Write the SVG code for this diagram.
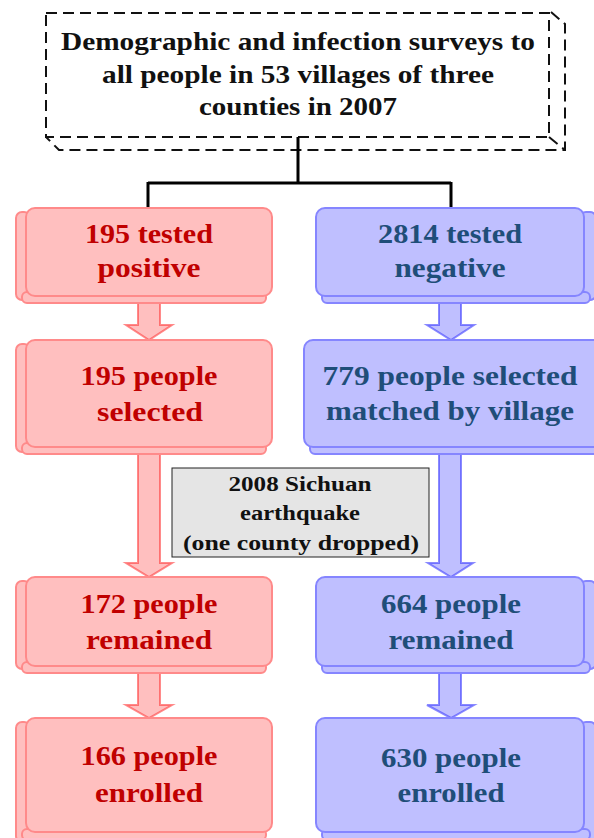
<svg xmlns="http://www.w3.org/2000/svg" width="594" height="838" viewBox="0 0 594 838">
<style>
.rm{fill:#ffbfbf;stroke:#ff8a8a;stroke-width:2}
.bm{fill:#bfbfff;stroke:#8585ff;stroke-width:2}
.ra{fill:rgba(255,0,0,0.25);stroke:rgba(255,60,60,0.6);stroke-width:2}
.ba{fill:rgba(0,0,255,0.25);stroke:rgba(60,60,255,0.6);stroke-width:2}
.dash{fill:none;stroke:#111;stroke-width:2;stroke-dasharray:11,6}
.ln{fill:none;stroke:#000;stroke-width:3}
</style>
<rect width="594" height="838" fill="#fff"/>
<g id="survey">
<path class="dash" d="M551,12 L565,24 L565,150 L59,150 L46,137"/>
<path class="dash" d="M549,137 L565,150"/>
<rect class="dash" x="46" y="13" width="503" height="124"/>
<g font-family="'Liberation Serif', serif" font-weight="bold" font-size="25" fill="#111" text-anchor="middle">
<text x="298" y="50" textLength="474" lengthAdjust="spacingAndGlyphs">Demographic and infection surveys to</text>
<text x="298" y="83" textLength="392" lengthAdjust="spacingAndGlyphs">all people in 53 villages of three</text>
<text x="298" y="115" textLength="198" lengthAdjust="spacingAndGlyphs">counties in 2007</text>
</g>
</g>
<g id="connectors">
<path class="ln" d="M298,137 V183 M148,183 H451 M148,182 V208 M451,182 V208"/>
<path class="ra" d="M138,296 V325 H126 L149,340 L172,325 H160 V296 Z"/>
<path class="ba" d="M439,296 V325 H427 L451,340 L474,325 H461 V296 Z"/>
<path class="ra" d="M138,447 V563 H126 L149,577 L172,563 H160 V447 Z"/>
<path class="ba" d="M439,447 V563 H428 L451,577 L473,563 H461 V447 Z"/>
<path class="ra" d="M138,666 V705 H126 L149,718 L172,705 H160 V666 Z"/>
<path class="ba" d="M439,666 V705 H427 L451,718 L474,705 H461 V666 Z"/>
</g>
<g id="pos">
<rect class="rm" x="16" y="212" width="14" height="88" rx="6"/>
<rect class="rm" x="22" y="292" width="244" height="11" rx="5"/>
<rect class="rm" x="26" y="208" width="246" height="88" rx="9"/>
<g font-family="'Liberation Serif', serif" font-weight="bold" font-size="28" fill="#c00000" text-anchor="middle">
<text x="149" y="243" textLength="128" lengthAdjust="spacingAndGlyphs">195 tested</text>
<text x="149" y="277" textLength="103" lengthAdjust="spacingAndGlyphs">positive</text>
</g>
</g>
<g id="neg">
<rect class="bm" x="580" y="212" width="16" height="88" rx="6"/>
<rect class="bm" x="322" y="292" width="268" height="11" rx="5"/>
<rect class="bm" x="316" y="208" width="268" height="88" rx="9"/>
<g font-family="'Liberation Serif', serif" font-weight="bold" font-size="28" fill="#1f4e79" text-anchor="middle">
<text x="450" y="243" textLength="144" lengthAdjust="spacingAndGlyphs">2814 tested</text>
<text x="450" y="277" textLength="111" lengthAdjust="spacingAndGlyphs">negative</text>
</g>
</g>
<g id="pos-sel">
<rect class="rm" x="16" y="344" width="14" height="108" rx="6"/>
<rect class="rm" x="22" y="443" width="244" height="11" rx="5"/>
<rect class="rm" x="26" y="340" width="246" height="107" rx="9"/>
<g font-family="'Liberation Serif', serif" font-weight="bold" font-size="28" fill="#c00000" text-anchor="middle">
<text x="149" y="385" textLength="137" lengthAdjust="spacingAndGlyphs">195 people</text>
<text x="150" y="421" textLength="106" lengthAdjust="spacingAndGlyphs">selected</text>
</g>
</g>
<g id="neg-sel">
<rect class="bm" x="310" y="443" width="290" height="11" rx="5"/>
<rect class="bm" x="304" y="340" width="300" height="107" rx="9"/>
<g font-family="'Liberation Serif', serif" font-weight="bold" font-size="28" fill="#1f4e79" text-anchor="middle">
<text x="450" y="385" textLength="255" lengthAdjust="spacingAndGlyphs">779 people selected</text>
<text x="450" y="420" textLength="248" lengthAdjust="spacingAndGlyphs">matched by village</text>
</g>
</g>
<g id="quake">
<rect x="172" y="468" width="257" height="89" fill="#e5e5e5" stroke="#222" stroke-width="1"/>
<g font-family="'Liberation Serif', serif" font-weight="bold" font-size="20" fill="#111" text-anchor="middle">
<text x="300" y="491" textLength="143" lengthAdjust="spacingAndGlyphs">2008 Sichuan</text>
<text x="300" y="520" textLength="120" lengthAdjust="spacingAndGlyphs">earthquake</text>
<text x="301" y="550" textLength="236" lengthAdjust="spacingAndGlyphs">(one county dropped)</text>
</g>
</g>
<g id="pos-rem">
<rect class="rm" x="16" y="581" width="14" height="88" rx="6"/>
<rect class="rm" x="22" y="662" width="244" height="11" rx="5"/>
<rect class="rm" x="26" y="577" width="246" height="89" rx="9"/>
<g font-family="'Liberation Serif', serif" font-weight="bold" font-size="28" fill="#c00000" text-anchor="middle">
<text x="149" y="613" textLength="137" lengthAdjust="spacingAndGlyphs">172 people</text>
<text x="149" y="649" textLength="126" lengthAdjust="spacingAndGlyphs">remained</text>
</g>
</g>
<g id="neg-rem">
<rect class="bm" x="580" y="581" width="16" height="88" rx="6"/>
<rect class="bm" x="322" y="662" width="268" height="11" rx="5"/>
<rect class="bm" x="316" y="577" width="268" height="89" rx="9"/>
<g font-family="'Liberation Serif', serif" font-weight="bold" font-size="28" fill="#1f4e79" text-anchor="middle">
<text x="451" y="613" textLength="140" lengthAdjust="spacingAndGlyphs">664 people</text>
<text x="451" y="649" textLength="125" lengthAdjust="spacingAndGlyphs">remained</text>
</g>
</g>
<g id="pos-enr">
<rect class="rm" x="16" y="722" width="14" height="120" rx="6"/>
<rect class="rm" x="22" y="829" width="244" height="11" rx="5"/>
<rect class="rm" x="26" y="718" width="246" height="114" rx="9"/>
<g font-family="'Liberation Serif', serif" font-weight="bold" font-size="28" fill="#c00000" text-anchor="middle">
<text x="149" y="765" textLength="137" lengthAdjust="spacingAndGlyphs">166 people</text>
<text x="149" y="802" textLength="108" lengthAdjust="spacingAndGlyphs">enrolled</text>
</g>
</g>
<g id="neg-enr">
<rect class="bm" x="580" y="722" width="16" height="120" rx="6"/>
<rect class="bm" x="322" y="829" width="268" height="11" rx="5"/>
<rect class="bm" x="316" y="718" width="268" height="114" rx="9"/>
<g font-family="'Liberation Serif', serif" font-weight="bold" font-size="28" fill="#1f4e79" text-anchor="middle">
<text x="451" y="767" textLength="140" lengthAdjust="spacingAndGlyphs">630 people</text>
<text x="451" y="802" textLength="107" lengthAdjust="spacingAndGlyphs">enrolled</text>
</g>
</g>
</svg>
